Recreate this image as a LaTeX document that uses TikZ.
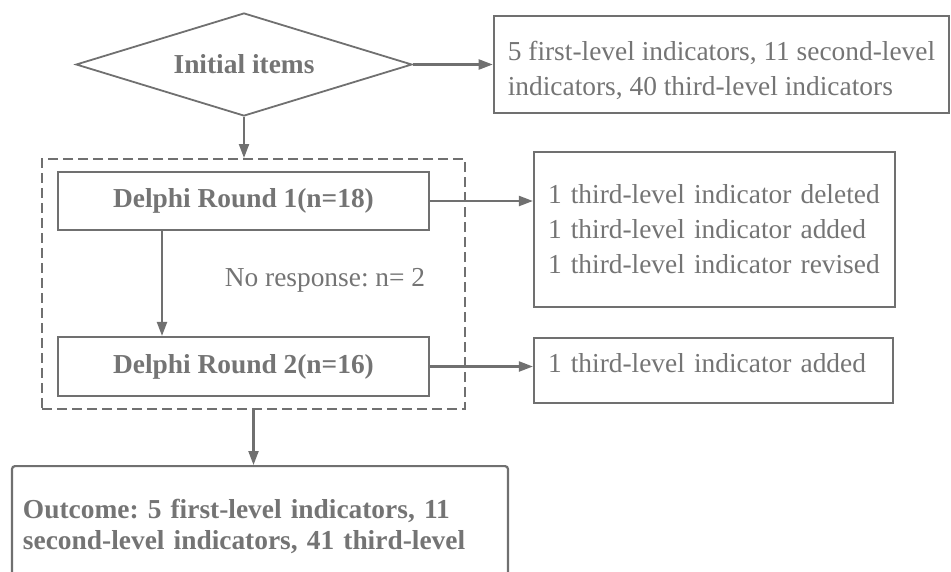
\documentclass[tikz,border=0pt]{standalone}
\usepackage{fontspec}
\setmainfont{Liberation Serif}
\usetikzlibrary{shapes.geometric,arrows.meta}
\definecolor{linegray}{RGB}{112,112,112}
\definecolor{textgray}{RGB}{116,116,116}
\frenchspacing

\begin{document}
\begin{tikzpicture}[x=1pt,y=-1pt,
    font=\fontsize{27.4pt}{35pt}\selectfont, text=textgray,
    >={Triangle[length=14pt,width=10pt]},
    flowline/.style={draw=linegray,line width=2.2pt,->},
    roundbox/.style={draw=linegray,line width=2.2pt,minimum width=371pt,minimum height=58pt,inner sep=0pt,
      font=\fontsize{27.4pt}{35pt}\selectfont\bfseries},
    notebox/.style={draw=linegray,line width=2.2pt,align=left,inner xsep=14pt,inner ysep=0pt}]
      \path[use as bounding box,clip] (0,0) rectangle (951,571);

      \node[draw=linegray,line width=2pt,dash pattern=on 10pt off 5pt,minimum width=423pt,minimum height=250pt] (rounds) at (253.5,284) {};

      \node[diamond,draw=linegray,line width=1.8pt,aspect=3.26,minimum width=336pt,minimum height=103pt,inner sep=0pt,
        font=\fontsize{27.4pt}{35pt}\selectfont\bfseries] (init) at (244,64.5) {Initial items};
      \node[notebox,minimum width=453pt,minimum height=97pt,text height=65pt,text depth=4pt] (items) at (721.5,64.5)
        {5 first-level indicators, 11 second-level\\indicators, 40 third-level indicators};

      \node[roundbox] (delone) at (243.5,201) {Delphi Round 1(n=18)};
      \node[roundbox,minimum height=59pt] (deltwo) at (243.5,366.5) {Delphi Round 2(n=16)};
      \node (noresp) at (325,280) {No response: n= 2};

      \node[notebox,minimum width=361pt,minimum height=155pt,text width=333pt] (roundone) at (714.5,229.5)
        {1 third-level indicator deleted\\1 third-level indicator added\\1 third-level indicator revised};
      \node[notebox,minimum width=359pt,minimum height=65pt,text width=331pt,text depth=15pt] (roundtwo) at (713.5,370.5)
        {1 third-level indicator added};

      \node[draw=linegray,line width=2.2pt,rounded corners=3pt,anchor=north,align=left,text width=474pt,
        inner xsep=11pt,inner ysep=0pt,text height=52pt,text depth=100pt,
        font=\fontsize{27.4pt}{31pt}\selectfont\bfseries] (outcome) at (260,465)
        {Outcome: 5 first-level indicators, 11\\second-level indicators, 41 third-level};

      \draw[flowline] (init.east) -- (init.east -| items.west);
      \draw[flowline] (init.south) -- (init.south |- rounds.north);
      \draw[flowline] (delone.east) -- (delone.east -| roundone.west);
      \draw[flowline] ([xshift=-81.5pt]delone.south) -- ([xshift=-81.5pt]deltwo.north);
      \draw[flowline] (deltwo.east) -- (deltwo.east -| roundtwo.west);
      \draw[flowline] (rounds.south) -- (rounds.south |- outcome.north);
\end{tikzpicture}
\end{document}
